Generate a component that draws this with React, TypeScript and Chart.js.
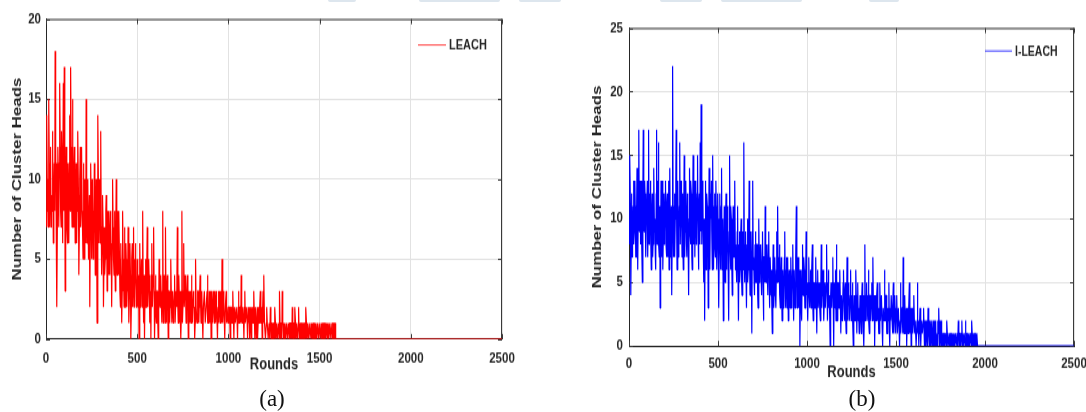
import React, { useEffect, useRef } from 'react';
import { Chart, registerables } from 'chart.js';

Chart.register(...registerables);

// ---------------- DATA ----------------
const ROUND_STEP = 5; // samples every 5 rounds ...
const ROUND_OFFSET_B = 3; // ... plus a second sample 3 rounds later
const totalRounds = 2500;
const roundTicks = [0, 500, 1000, 1500, 2000, 2500];
const leachYTicks = [0, 5, 10, 15, 20];
const ileachYTicks = [0, 5, 10, 15, 20, 25];

// LEACH cluster heads at rounds 0, 5, 10, ... 1585
const leachHeads = [
  8, 14, 10, 15, 7, 12, 9, 13, 6, 11, 18, 9, 2, 12, 7, 16, 8, 13, 6, 16,
  17, 3, 12, 7, 11, 6, 14, 17, 9, 15, 7, 12, 6, 11, 8, 13, 4, 10, 7, 12,
  7, 11, 5, 9, 15, 6, 10, 7, 2, 11, 5, 9, 8, 11, 4, 10, 1, 14, 6, 9,
  13, 4, 9, 2, 7, 5, 9, 3, 6, 8, 4, 7, 2, 10, 5, 8, 3, 10, 4, 7,
  8, 3, 6, 1, 8, 4, 7, 2, 5, 3, 7, 1, 6, 0, 5, 2, 7, 3, 6, 2,
  5, 2, 0, 6, 3, 4, 8, 1, 0, 5, 2, 7, 3, 4, 1, 0, 6, 2, 7, 0,
  4, 1, 3, 0, 5, 2, 4, 1, 8, 2, 3, 7, 1, 4, 0, 3, 2, 5, 1, 3,
  2, 4, 1, 3, 7, 1, 3, 2, 0, 8, 1, 6, 2, 3, 1, 4, 0, 2, 3, 1,
  3, 1, 2, 0, 5, 2, 1, 3, 2, 4, 1, 3, 0, 2, 3, 1, 2, 4, 1, 3,
  2, 0, 3, 1, 2, 3, 1, 2, 0, 3, 2, 1, 3, 5, 1, 2, 0, 2, 1, 2,
  1, 2, 0, 2, 1, 3, 0, 2, 1, 2, 0, 3, 1, 2, 4, 1, 2, 0, 3, 1,
  2, 0, 1, 2, 1, 0, 2, 1, 3, 0, 2, 1, 0, 2, 1, 3, 1, 0, 3, 4,
  1, 0, 2, 1, 0, 1, 2, 0, 1, 0, 1, 2, 0, 1, 0, 1, 3, 0, 1, 3,
  1, 0, 1, 0, 1, 0, 1, 1, 0, 1, 2, 0, 1, 2, 0, 1, 0, 2, 1, 0,
  1, 0, 1, 0, 1, 2, 0, 1, 0, 1, 0, 1, 1, 0, 1, 0, 1, 0, 1, 0,
  1, 0, 1, 0, 1, 0, 1, 0, 1, 1, 0, 1, 0, 1, 0, 1, 0, 1,
];
// LEACH cluster heads at rounds 3, 8, 13, ... 1588
const leachHeadsB = [
  7, 8, 7, 11, 10, 7, 8, 12, 9, 8, 12, 11, 8, 10, 11, 12, 7, 11, 9, 8,
  10, 8, 10, 6, 9, 11, 8, 12, 7, 10, 11, 9, 8, 6, 11, 9, 7, 12, 9, 8,
  5, 8, 10, 6, 9, 8, 5, 9, 7, 8, 10, 5, 6, 8, 7, 6, 8, 9, 10, 6,
  7, 6, 7, 5, 4, 8, 6, 8, 4, 6, 8, 5, 6, 7, 4, 6, 7, 5, 8, 4,
  5, 2, 4, 3, 5, 2, 5, 6, 2, 4, 5, 3, 4, 2, 6, 4, 2, 5, 4, 3,
  3, 4, 3, 2, 5, 2, 3, 4, 3, 2, 5, 2, 5, 2, 3, 4, 2, 4, 3, 2,
  2, 3, 1, 2, 3, 4, 2, 3, 1, 4, 1, 2, 3, 2, 3, 1, 4, 2, 3, 1,
  3, 1, 3, 2, 2, 4, 1, 3, 2, 1, 3, 2, 4, 1, 3, 2, 3, 1, 2, 4,
  1, 3, 2, 1, 2, 1, 3, 1, 3, 2, 3, 1, 2, 3, 1, 2, 3, 1, 2, 1,
  3, 2, 1, 3, 1, 2, 3, 1, 2, 1, 3, 2, 1, 2, 3, 1, 2, 3, 2, 1,
  2, 1, 2, 1, 2, 1, 2, 1, 2, 1, 2, 1, 2, 1, 2, 2, 1, 2, 1, 2,
  1, 2, 2, 0, 2, 1, 1, 2, 1, 2, 0, 2, 1, 1, 2, 1, 2, 2, 1, 1,
  0, 1, 1, 0, 1, 0, 1, 1, 0, 1, 0, 1, 1, 0, 1, 0, 1, 1, 0, 1,
  0, 1, 0, 1, 0, 1, 0, 1, 1, 0, 1, 1, 0, 1, 1, 0, 1, 0, 0, 1,
  0, 1, 0, 1, 0, 1, 1, 0, 1, 0, 1, 0, 0, 1, 0, 1, 0, 1, 0, 1,
  0, 1, 0, 1, 0, 1, 0, 1, 0, 0, 1, 0, 1, 0, 1, 0, 1, 0,
];
const leachLastRound = 1590; // all nodes dead: 0 from here to the end

// I-LEACH cluster heads at rounds 0, 5, 10, ... 1955
const ileachHeads = [
  10, 15, 4, 12, 8, 13, 9, 11, 7, 14, 6, 17, 10, 8, 13, 5, 17, 9, 12, 7,
  11, 7, 17, 9, 13, 6, 12, 8, 14, 10, 6, 17, 9, 16, 7, 3, 13, 11, 6, 12,
  9, 13, 7, 12, 10, 6, 14, 8, 4, 22, 7, 12, 10, 17, 6, 13, 9, 16, 8, 11,
  12, 6, 15, 9, 13, 7, 11, 4, 14, 8, 12, 6, 15, 10, 7, 13, 9, 15, 6, 12,
  16, 19, 8, 12, 5, 2, 13, 7, 11, 3, 14, 6, 10, 9, 15, 6, 12, 7, 11, 8,
  10, 3, 12, 6, 14, 8, 2, 11, 5, 12, 7, 9, 2, 15, 6, 10, 4, 11, 7, 13,
  8, 5, 11, 2, 9, 6, 10, 4, 8, 16, 5, 9, 3, 10, 6, 13, 4, 9, 1, 13,
  7, 4, 9, 5, 8, 3, 10, 6, 8, 4, 9, 2, 7, 11, 5, 8, 4, 9, 3, 7,
  6, 1, 8, 4, 7, 3, 9, 11, 5, 8, 3, 7, 2, 6, 4, 9, 3, 7, 5, 2,
  6, 3, 7, 4, 8, 2, 6, 5, 11, 3, 7, 4, 0, 6, 2, 8, 4, 6, 3, 9,
  5, 2, 7, 3, 6, 4, 8, 2, 5, 3, 7, 1, 6, 3, 5, 2, 8, 4, 6, 2,
  5, 3, 8, 2, 6, 4, 0, 5, 3, 7, 0, 4, 6, 8, 2, 5, 3, 6, 1, 4,
  3, 6, 2, 5, 1, 7, 3, 4, 2, 6, 3, 5, 0, 4, 2, 6, 1, 5, 3, 2,
  4, 1, 5, 2, 0, 8, 3, 5, 2, 6, 1, 4, 3, 5, 7, 2, 0, 4, 2, 5,
  3, 1, 5, 2, 4, 0, 3, 6, 2, 4, 1, 3, 5, 0, 2, 4, 1, 5, 2, 3,
  2, 4, 1, 3, 0, 5, 2, 3, 7, 1, 4, 2, 0, 3, 1, 5, 2, 0, 3, 1,
  4, 1, 2, 0, 5, 2, 1, 3, 0, 2, 1, 3, 0, 2, 1, 0, 3, 1, 2, 0,
  2, 1, 0, 2, 1, 0, 1, 2, 3, 0, 1, 2, 1, 0, 1, 0, 1, 2, 1, 0,
  1, 0, 1, 0, 1, 1, 0, 1, 0, 1, 2, 0, 1, 0, 2, 1, 0, 1, 2, 0,
  1, 0, 1, 0, 1, 2, 0, 1, 0, 1, 0, 1,
];
// I-LEACH cluster heads at rounds 3, 8, 13, ... 1958
const ileachHeadsB = [
  8, 11, 9, 7, 11, 8, 13, 7, 11, 8, 12, 9, 13, 10, 8, 12, 10, 13, 8, 10,
  13, 10, 8, 12, 9, 11, 7, 12, 9, 7, 12, 8, 13, 8, 11, 9, 7, 13, 9, 8,
  12, 8, 11, 7, 13, 10, 7, 11, 9, 10, 11, 7, 13, 9, 10, 7, 11, 8, 13, 7,
  9, 11, 7, 12, 8, 12, 7, 10, 9, 13, 7, 11, 8, 13, 12, 8, 12, 9, 11, 8,
  9, 11, 13, 7, 10, 9, 6, 12, 8, 10, 7, 12, 13, 6, 9, 11, 8, 13, 6, 12,
  7, 9, 8, 11, 6, 10, 8, 7, 10, 6, 11, 5, 9, 8, 11, 6, 9, 7, 11, 6,
  6, 9, 5, 8, 5, 9, 5, 9, 6, 7, 8, 5, 8, 5, 9, 6, 8, 5, 9, 6,
  5, 8, 5, 8, 4, 7, 5, 8, 5, 8, 5, 7, 5, 6, 8, 5, 8, 5, 7, 4,
  4, 6, 3, 7, 4, 6, 5, 6, 7, 4, 6, 4, 6, 3, 7, 4, 6, 3, 7, 5,
  4, 6, 3, 6, 4, 6, 3, 7, 5, 6, 3, 6, 4, 3, 6, 4, 7, 3, 6, 4,
  3, 5, 4, 5, 3, 6, 3, 5, 3, 6, 3, 5, 3, 5, 3, 5, 3, 5, 3, 4,
  3, 5, 4, 5, 3, 2, 4, 3, 5, 3, 5, 3, 2, 4, 5, 3, 5, 3, 4, 2,
  5, 3, 4, 2, 4, 2, 5, 2, 4, 2, 4, 2, 3, 2, 4, 3, 4, 2, 1, 4,
  2, 4, 2, 4, 3, 2, 4, 2, 4, 2, 4, 2, 4, 2, 3, 4, 3, 2, 4, 2,
  1, 3, 2, 4, 1, 3, 2, 3, 4, 1, 3, 2, 1, 3, 4, 2, 3, 1, 4, 1,
  3, 1, 3, 1, 2, 1, 3, 1, 2, 3, 1, 3, 2, 1, 3, 1, 3, 2, 1, 2,
  2, 2, 0, 2, 1, 0, 2, 1, 2, 1, 2, 1, 2, 0, 2, 1, 2, 0, 1, 2,
  0, 2, 1, 0, 2, 1, 0, 1, 1, 2, 0, 1, 0, 1, 0, 1, 0, 1, 0, 1,
  0, 1, 0, 1, 0, 0, 1, 0, 1, 0, 1, 1, 0, 1, 0, 0, 1, 0, 1, 1,
  0, 1, 0, 1, 0, 1, 1, 0, 1, 0, 1, 0,
];
const ileachLastRound = 1960;

// ---------------- STYLE ----------------
const STRETCH_Y = 1.3;
const FONT = "'Liberation Sans', Arial, Helvetica, sans-serif";
const INK = '#262626';
const GRID = '#e2e2e2';

type PanelCfg = {
  label: string;
  color: string;
  heads: number[];
  headsB: number[];
  lastRound: number;
  yMax: number;
  yTicks: number[];
  left: number;
  width: number;
  height: number;
  padding: { left: number; right: number; top: number; bottom: number };
  yAxisWidth: number;
  xAxisHeight: number;
  yTickPad: number;
  xTickPad: number;
  yTitlePad: number;
  legend: { x1: number; x2: number; y: number; tx: number; size: number };
};

const panels: PanelCfg[] = [
  {
    label: 'LEACH',
    color: '#ff0000',
    heads: leachHeads,
    headsB: leachHeadsB,
    lastRound: leachLastRound,
    yMax: 20,
    yTicks: leachYTicks,
    left: 0,
    width: 520,
    height: 300,
    padding: { left: 0, right: 18, top: 14.6, bottom: 11.8 },
    yAxisWidth: 46,
    xAxisHeight: 27.4,
    yTickPad: 5,
    xTickPad: 8,
    yTitlePad: 9.2,
    legend: { x1: 418, x2: 446, y: 34.6, tx: 449, size: 11 },
  },
  {
    label: 'I-LEACH',
    color: '#0000ff',
    heads: ileachHeads,
    headsB: ileachHeadsB,
    lastRound: ileachLastRound,
    yMax: 25,
    yTicks: ileachYTicks,
    left: 570,
    width: 516,
    height: 300,
    padding: { left: 0, right: 12, top: 21.5, bottom: 5.7 },
    yAxisWidth: 59,
    xAxisHeight: 28.1,
    yTickPad: 6,
    xTickPad: 6.5,
    yTitlePad: 19.2,
    legend: { x1: 415, x2: 442, y: 39.2, tx: 445, size: 10.5 },
  },
];

const framePlugin = {
  id: 'matlabFrame',
  beforeDatasetsDraw(chart: any) {
    const { ctx, chartArea, scales } = chart;
    const { left, right, top, bottom } = chartArea;
    ctx.save();
    ctx.strokeStyle = '#3a3a3a';
    ctx.lineWidth = 1;
    ctx.beginPath();
    ctx.moveTo(left, top + 0.5);
    ctx.lineTo(right, top + 0.5);
    ctx.moveTo(right - 0.5, top);
    ctx.lineTo(right - 0.5, bottom);
    const tl = 4;
    for (const t of scales.x.ticks) {
      const px = Math.round(scales.x.getPixelForValue(t.value)) + 0.5;
      ctx.moveTo(px, bottom);
      ctx.lineTo(px, bottom - tl);
      ctx.moveTo(px, top);
      ctx.lineTo(px, top + tl);
    }
    for (const t of scales.y.ticks) {
      const py = Math.round(scales.y.getPixelForValue(t.value)) + 0.5;
      ctx.moveTo(left, py);
      ctx.lineTo(left + tl, py);
      ctx.moveTo(right, py);
      ctx.lineTo(right - tl, py);
    }
    ctx.stroke();
    ctx.restore();
  },
};

function makeLegendPlugin(cfg: PanelCfg) {
  return {
    id: 'insideLegend',
    afterDraw(chart: any) {
      const { ctx } = chart;
      const L = cfg.legend;
      ctx.save();
      ctx.strokeStyle = cfg.color;
      ctx.globalAlpha = 0.75;
      ctx.lineWidth = 1;
      ctx.beginPath();
      ctx.moveTo(L.x1, L.y);
      ctx.lineTo(L.x2, L.y);
      ctx.stroke();
      ctx.globalAlpha = 1;
      ctx.fillStyle = INK;
      ctx.font = `bold ${L.size}px ${FONT}`;
      ctx.textBaseline = 'middle';
      ctx.textAlign = 'left';
      ctx.fillText(cfg.label, L.tx, L.y + 0.7);
      ctx.restore();
    },
  };
}

function Panel({ cfg }: { cfg: PanelCfg }) {
  const ref = useRef<HTMLCanvasElement | null>(null);
  useEffect(() => {
    if (!ref.current) return;
    const points: { x: number; y: number }[] = [];
    cfg.heads.forEach((v, i) => {
      points.push({ x: i * ROUND_STEP, y: v });
      if (i < cfg.headsB.length) points.push({ x: i * ROUND_STEP + ROUND_OFFSET_B, y: cfg.headsB[i] });
    });
    points.push({ x: cfg.lastRound, y: 0 });
    points.push({ x: totalRounds, y: 0 });
    const tickFont = { size: 11.5, weight: 'bold' as const, family: FONT };
    const titleFont = { size: 13, weight: 'bold' as const, family: FONT };
    const chart = new Chart(ref.current, {
      type: 'line',
      data: {
        datasets: [
          {
            label: cfg.label,
            data: points,
            borderColor: cfg.color,
            borderWidth: 1.2,
            borderJoinStyle: 'bevel',
            pointRadius: 0,
            tension: 0,
            fill: false,
          },
        ],
      },
      options: {
        animation: false,
        responsive: false,
        events: [],
        layout: { padding: cfg.padding },
        plugins: {
          legend: { display: false },
          tooltip: { enabled: false },
          title: { display: false },
        },
        scales: {
          x: {
            type: 'linear',
            min: 0,
            max: totalRounds,
            afterBuildTicks: (s: any) => {
              s.ticks = roundTicks.map((v) => ({ value: v }));
            },
            afterFit: (s: any) => {
              s.height = cfg.xAxisHeight;
              s.paddingLeft = 0;
              s.paddingRight = 0;
            },
            ticks: {
              color: INK,
              font: tickFont,
              padding: cfg.xTickPad,
              maxRotation: 0,
              minRotation: 0,
              autoSkip: false,
              callback: (v: any) => String(v),
            },
            grid: { color: GRID, drawTicks: false, lineWidth: 1 },
            border: { display: true, color: INK, width: 1 },
            title: {
              display: true,
              text: 'Rounds',
              color: INK,
              font: titleFont,
              padding: { top: 0, bottom: 0 },
            },
          },
          y: {
            type: 'linear',
            min: 0,
            max: cfg.yMax,
            afterBuildTicks: (s: any) => {
              s.ticks = cfg.yTicks.map((v) => ({ value: v }));
            },
            afterFit: (s: any) => {
              s.width = cfg.yAxisWidth;
              s.paddingTop = 0;
              s.paddingBottom = 0;
            },
            ticks: {
              color: INK,
              font: tickFont,
              padding: cfg.yTickPad,
              autoSkip: false,
              callback: (v: any) => String(v),
            },
            grid: { color: GRID, drawTicks: false, lineWidth: 1 },
            border: { display: true, color: INK, width: 1 },
            title: {
              display: true,
              text: 'Number of Cluster Heads',
              color: INK,
              font: titleFont,
              padding: { top: cfg.yTitlePad, bottom: 0 },
            },
          },
        },
      } as any,
      plugins: [framePlugin, makeLegendPlugin(cfg)],
    });
    return () => chart.destroy();
  }, [cfg]);

  return (
    <div
      style={{
        position: 'absolute',
        left: cfg.left,
        top: 0,
        width: cfg.width,
        height: cfg.height,
        transform: `scaleY(${STRETCH_Y})`,
        transformOrigin: '0 0',
      }}
    >
      <canvas ref={ref} width={cfg.width} height={cfg.height} style={{ display: 'block' }} />
    </div>
  );
}

const topBlobs = [
  [328, 356],
  [419, 500],
  [519, 561],
  [660, 702],
  [721, 802],
  [869, 899],
];

export default function App() {
  const captionStyle: React.CSSProperties = {
    position: 'absolute',
    top: 385,
    width: 60,
    textAlign: 'center',
    fontFamily: "'Liberation Serif', 'Times New Roman', serif",
    fontSize: 23,
    lineHeight: '28px',
    color: '#111',
  };
  return (
    <div
      style={{
        position: 'absolute',
        left: 0,
        top: 0,
        width: 1086,
        height: 412,
        overflow: 'hidden',
        background: '#ffffff',
      }}
    >
      {topBlobs.map(([a, b], i) => (
        <div
          key={i}
          style={{
            position: 'absolute',
            left: a,
            top: 0,
            width: b - a,
            height: 2,
            background: '#dde6ee',
            borderRadius: '0 0 3px 3px',
          }}
        />
      ))}
      {panels.map((p) => (
        <Panel key={p.label} cfg={p} />
      ))}
      <div style={{ ...captionStyle, left: 272 - 30 }}>(a)</div>
      <div style={{ ...captionStyle, left: 862 - 30 }}>(b)</div>
    </div>
  );
}
